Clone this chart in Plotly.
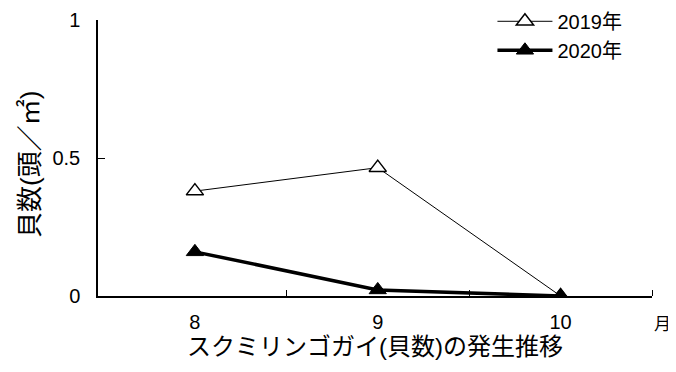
import plotly.graph_objects as go

months = [8, 9, 10]
y2019 = [0.38, 0.465, 0.0]
y2020 = [0.16, 0.022, 0.0]
x_ticks = [8, 9, 10]
x_tick_labels = ["8", "9", "10"]
x_bounds = [8.5, 9.5, 10.5]
y_ticks = [0, 0.5, 1]
y_tick_labels = ["0", "0.5", "1"]

font_family = "Liberation Sans, Noto Sans CJK JP, sans-serif"

fig = go.Figure()
fig.add_trace(go.Scatter(
    x=months, y=y2019, name="2019年", mode="lines+markers",
    line=dict(color="black", width=1),
    marker=dict(symbol="triangle-up", size=15, color="white",
                line=dict(color="black", width=1.5)),
))
fig.add_trace(go.Scatter(
    x=months, y=y2020, name="2020年", mode="lines+markers",
    line=dict(color="black", width=3.5),
    marker=dict(symbol="triangle-up", size=15, color="black",
                line=dict(color="black", width=1)),
))

# the page adds an 8px body margin, so margins are trimmed by 8px
fig.update_layout(
    width=676, height=372,
    margin=dict(l=90, r=32, t=12, b=84, autoexpand=False),
    paper_bgcolor="white", plot_bgcolor="white",
    font=dict(family=font_family, size=20, color="black"),
    legend=dict(x=0.712, y=1.066, xanchor="left", yanchor="top",
                bgcolor="rgba(0,0,0,0)", font=dict(size=20),
                itemwidth=55, tracegroupgap=0),
    showlegend=True,
)
fig.update_xaxes(
    range=[7.47, 10.5], tickvals=x_ticks, ticktext=x_tick_labels,
    showline=True, linecolor="black", linewidth=1.5,
    ticks="", showgrid=False, zeroline=False, automargin=False,
    minor=dict(tickvals=x_bounds, ticks="inside", ticklen=6,
               tickcolor="black", showgrid=False),
    ticklabelstandoff=7,
    title=dict(text="スクミリンゴガイ(貝数)の発生推移", font=dict(size=24), standoff=4),
)
fig.update_yaxes(
    range=[0, 1], tickvals=y_ticks, ticktext=y_tick_labels,
    showline=True, linecolor="black", linewidth=1.5,
    ticks="inside", ticklen=7, tickcolor="black",
    showgrid=False, zeroline=False, automargin=False,
    ticklabelstandoff=12,
)
fig.add_annotation(
    text="貝数(頭／㎡)", textangle=-90, xref="paper", yref="paper",
    x=-0.124, y=0.476, xanchor="center", yanchor="middle",
    showarrow=False, font=dict(size=26),
)
fig.add_annotation(
    text="月", xref="paper", yref="paper", x=1.0, y=-0.105,
    xanchor="left", yanchor="middle", xshift=0, showarrow=False,
    font=dict(size=17),
)

fig.write_html("out.html")
